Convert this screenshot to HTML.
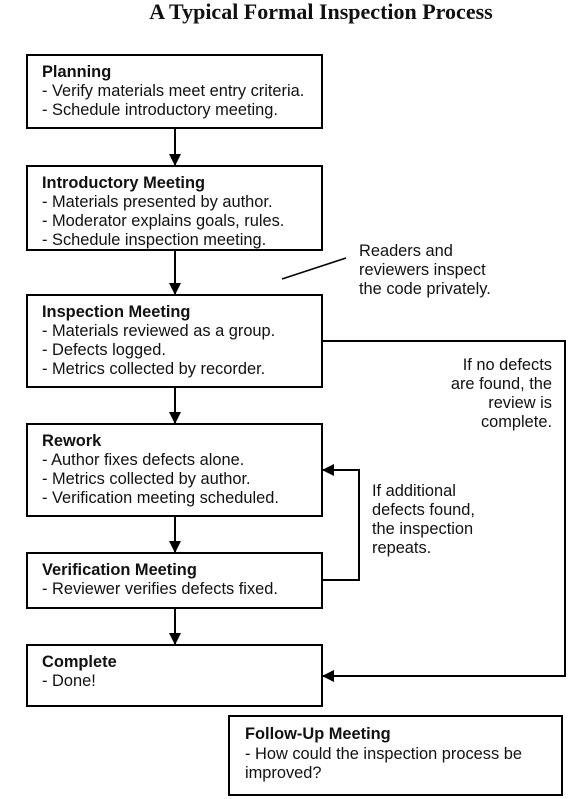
<!DOCTYPE html>
<html><head><meta charset="utf-8"><style>
html,body{margin:0;padding:0;background:#fff;}
svg{display:block;}
text{font-family:"Liberation Sans",Arial,sans-serif;font-size:16.4px;fill:#111;}
.b{font-weight:bold;}
</style></head><body>
<svg width="584" height="799" viewBox="0 0 584 799" xmlns="http://www.w3.org/2000/svg">
<defs><marker id="a" markerWidth="12" markerHeight="12" refX="11" refY="6" orient="auto" markerUnits="userSpaceOnUse"><path d="M0,0 L12,6 L0,12 z" fill="#000"/></marker></defs>
<text x="321" y="19" text-anchor="middle" style="font-family:'Liberation Serif',serif;font-size:22px;font-weight:bold">A Typical Formal Inspection Process</text>
<g fill="none" stroke="#000" stroke-width="2">
<rect x="27" y="55" width="295" height="73"/>
<rect x="27" y="166" width="295" height="84"/>
<rect x="27" y="295" width="295" height="92"/>
<rect x="27" y="424" width="295" height="92"/>
<rect x="27" y="553" width="295" height="55"/>
<rect x="27" y="645" width="295" height="61"/>
<rect x="229" y="716" width="333" height="79"/>
<line x1="175" y1="128" x2="175" y2="165" marker-end="url(#a)"/>
<line x1="175" y1="250" x2="175" y2="294" marker-end="url(#a)"/>
<line x1="175" y1="387" x2="175" y2="423" marker-end="url(#a)"/>
<line x1="175" y1="516" x2="175" y2="552" marker-end="url(#a)"/>
<line x1="175" y1="608" x2="175" y2="644" marker-end="url(#a)"/>
<polyline points="322,341 565,341 565,676 323,676" marker-end="url(#a)"/>
<polyline points="322,580 359,580 359,470 323,470" marker-end="url(#a)"/>
<line x1="282" y1="279" x2="346" y2="258" stroke-width="1.5"/>
</g>
<text x="42" y="77" class="b">Planning</text>
<text x="42" y="96">- Verify materials meet entry criteria.</text>
<text x="42" y="115">- Schedule introductory meeting.</text>
<text x="42" y="188" class="b">Introductory Meeting</text>
<text x="42" y="207">- Materials presented by author.</text>
<text x="42" y="226">- Moderator explains goals, rules.</text>
<text x="42" y="245">- Schedule inspection meeting.</text>
<text x="42" y="317" class="b">Inspection Meeting</text>
<text x="42" y="336">- Materials reviewed as a group.</text>
<text x="42" y="355">- Defects logged.</text>
<text x="42" y="374">- Metrics collected by recorder.</text>
<text x="42" y="446" class="b">Rework</text>
<text x="42" y="465">- Author fixes defects alone.</text>
<text x="42" y="484">- Metrics collected by author.</text>
<text x="42" y="503">- Verification meeting scheduled.</text>
<text x="42" y="575" class="b">Verification Meeting</text>
<text x="42" y="594">- Reviewer verifies defects fixed.</text>
<text x="42" y="667" class="b">Complete</text>
<text x="42" y="686">- Done!</text>
<text x="245" y="739" class="b">Follow-Up Meeting</text>
<text x="245" y="759">- How could the inspection process be</text>
<text x="245" y="778">improved?</text>
<text x="359" y="256">Readers and</text>
<text x="359" y="275">reviewers inspect</text>
<text x="359" y="294">the code privately.</text>
<text x="552" y="370" text-anchor="end">If no defects</text>
<text x="552" y="389" text-anchor="end">are found, the</text>
<text x="552" y="408" text-anchor="end">review is</text>
<text x="552" y="427" text-anchor="end">complete.</text>
<text x="372" y="496">If additional</text>
<text x="372" y="515">defects found,</text>
<text x="372" y="534">the inspection</text>
<text x="372" y="553">repeats.</text>
</svg>
</body></html>
